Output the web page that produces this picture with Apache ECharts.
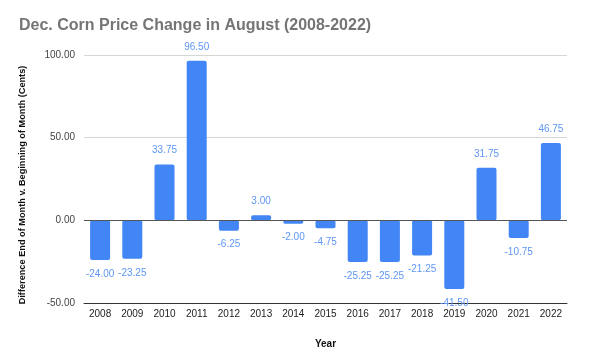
<!DOCTYPE html>
<html><head><meta charset="utf-8">
<script src="https://cdn.jsdelivr.net/npm/echarts@6/dist/echarts.min.js"></script>
<style>html,body{margin:0;padding:0;background:#fff}#c{width:589px;height:363px}</style>
</head><body><div id="c"></div>
<script>
var years = ['2008','2009','2010','2011','2012','2013','2014','2015','2016','2017','2018','2019','2020','2021','2022'];
var changes = [-24.00,-23.25,33.75,96.50,-6.25,3.00,-2.00,-4.75,-25.25,-25.25,-21.25,-41.50,31.75,-10.75,46.75];
var yTicks = [-50,0,50,100];

var chart = echarts.init(document.getElementById('c'));
var data = changes.map(function(v){
  return {value:v, label:{position: v<0 ? 'bottom' : 'top'}};
});
chart.setOption({
  animation:false,
  title:{text:'Dec. Corn Price Change in August (2008-2022)', left:14, top:13,
    textStyle:{fontFamily:'Liberation Sans', fontWeight:'bold', fontSize:16, color:'#757575'}},
  grid:{left:84, right:22, top:55, bottom:60},
  xAxis:{type:'category', data:years, name:'Year', nameLocation:'middle', nameGap:36,
    nameTextStyle:{fontFamily:'Liberation Sans', fontWeight:'bold', fontSize:10, color:'#111'},
    axisLine:{onZero:false, lineStyle:{color:'#333'}},
    axisTick:{alignWithLabel:true, inside:true, length:8, lineStyle:{color:'#333'}},
    axisLabel:{fontFamily:'Liberation Sans', fontSize:10, color:'#222', margin:6}},
  yAxis:{type:'value', min:yTicks[0], max:yTicks[yTicks.length-1], interval:50,
    name:'Difference End of Month v. Beginning of Month (Cents)', nameLocation:'middle', nameGap:57,
    nameTextStyle:{fontFamily:'Liberation Sans', fontWeight:'bold', fontSize:9.2, color:'#111', padding:[0,12,0,0]},
    axisLine:{show:false}, axisTick:{show:false},
    splitLine:{lineStyle:{color:'#d6d6d6'}},
    axisLabel:{fontFamily:'Liberation Sans', fontSize:10, color:'#444', margin:9,
      formatter:function(v){return v.toFixed(2);}}},
  series:[{type:'bar', data:data, barWidth:20,
    itemStyle:{color:'#4285f4', borderRadius:2},
    label:{show:true, distance:9, fontFamily:'Liberation Sans', fontSize:10, color:'#5e97f6',
      formatter:function(p){return p.value.toFixed(2);}},
    markLine:{silent:true, symbol:'none', label:{show:false},
      lineStyle:{color:'#555', type:'solid', width:1},
      data:[{yAxis:0}]}
  }]
});
</script></body></html>
